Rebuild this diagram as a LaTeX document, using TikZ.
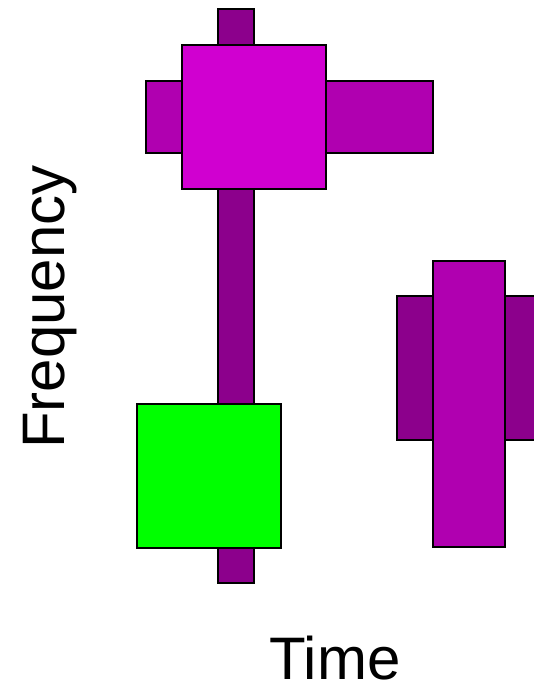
\documentclass[tikz,border=0pt]{standalone}
\usepackage{fontspec}
\setmainfont{Liberation Sans}
\usepackage{tikz}
\usetikzlibrary{positioning}

\definecolor{dmag}{HTML}{8C008C}
\definecolor{mmag}{HTML}{B000B0}
\definecolor{bmag}{HTML}{D000D0}
\definecolor{lgreen}{HTML}{00FF00}

\begin{document}
\begin{tikzpicture}[
  x=1pt, y=-1pt,
  tile/.style={draw=black, line width=1.2pt, inner sep=0pt, outer sep=0pt},
  label/.style={font=\fontsize{60}{72}\selectfont, inner sep=0pt}
]
\useasboundingbox (0,0) rectangle (534,684);

% stem and the top cross
\node[tile, fill=dmag, minimum width=36pt, minimum height=574pt] (stem) at (236,296) {};
\node[tile, fill=mmag, minimum width=36pt, minimum height=72pt] (left) at (164,117) {};
\node[tile, fill=mmag, minimum width=107pt, minimum height=72pt] (right) at (379.5,117) {};
\node[tile, fill=bmag, minimum size=144pt] (top) at (254,117) {};
\node[tile, fill=lgreen, minimum size=144pt] (low) at (209,476) {};

% the second group, cut at the right edge
\node[tile, fill=dmag, minimum width=150pt, minimum height=144pt] (wide) at (472,368) {};
\node[tile, fill=mmag, minimum width=72pt, minimum height=286pt] (tall) at (469,404) {};

\node[label, rotate=90] (freq) at (50,307) {Frequency};
\node[label] (time) at (335,658) {Time};
\end{tikzpicture}
\end{document}
